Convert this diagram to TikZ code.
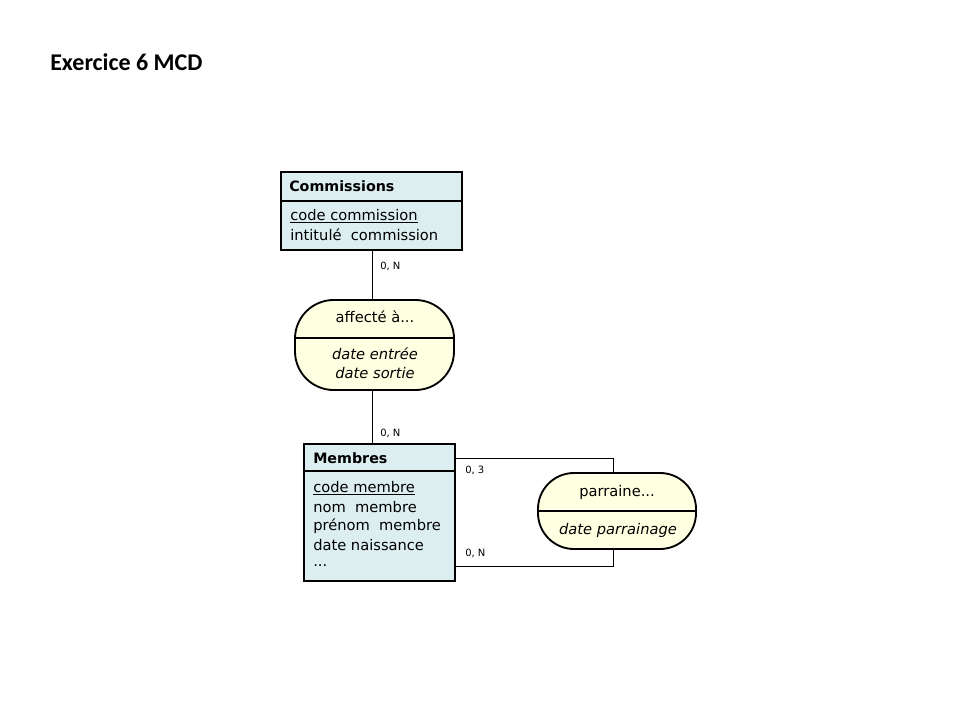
\documentclass[tikz,border=0pt]{standalone}
\usepackage{fontspec}
\setmainfont{DejaVu Sans}
\newfontfamily\titlefont{Carlito}
\definecolor{entfill}{RGB}{221,238,240}
\definecolor{assfill}{RGB}{255,255,226}
\tikzset{
  entitybox/.style={draw=black, line width=1.4pt, fill=entfill, anchor=north west, inner sep=0pt},
  assocbox/.style={draw=black, line width=1.4pt, fill=assfill, rounded corners=29pt, inner sep=0pt},
  divider/.style={line width=1.4pt},
  link/.style={draw=black, line width=0.6pt},
  txt/.style={font=\fontsize{11}{13}\selectfont, inner sep=0pt, anchor=west},
  hdr/.style={font=\bfseries\fontsize{10.7}{13}\selectfont, inner sep=0pt, anchor=west},
  itxt/.style={font=\itshape\fontsize{11}{13}\selectfont, inner sep=0pt},
  card/.style={font=\fontsize{7.5}{9}\selectfont, inner sep=0pt, anchor=west},
}
\begin{document}
\begin{tikzpicture}[x=0.75pt,y=-0.75pt]
\useasboundingbox (0,0) rectangle (960,720);
% title
\node[font=\titlefont\bfseries\fontsize{18}{21}\selectfont, anchor=west, inner sep=0pt] (title) at (50,62) {Exercice 6 MCD};

% Commissions entity
\node[entitybox, minimum width=135.75pt, minimum height=58.5pt] (comm) at (280,171) {};
\draw[divider] (280,201) -- (463,201);
\node[hdr] (commh) at (289,186) {Commissions};
\node[txt] (comm1) at (290,216) {\underline{code commission}};
\node[txt] (comm2) at (290,235) {intitulé\ \ commission};

% affecte association
\node[assocbox, minimum width=119.25pt, minimum height=67.5pt] (aff) at (374.5,345) {};
\draw[divider] (295,338) -- (454,338);
\node[font=\fontsize{11}{13}\selectfont, inner sep=0pt] (aff1) at (375,317) {affecté à...};
\node[itxt] (aff2) at (375,354) {date entrée};
\node[itxt] (aff3) at (375,373) {date sortie};

% Membres entity
\node[entitybox, minimum width=113.25pt, minimum height=102.75pt] (memb) at (303,443) {};
\draw[divider] (303,471) -- (454,471);
\node[hdr] (membh) at (313,458) {Membres};
\node[txt] (memb1) at (313,488) {\underline{code membre}};
\node[txt] (memb2) at (313,507) {nom\ \ membre};
\node[txt] (memb3) at (313,526) {prénom\ \ membre};
\node[txt] (memb4) at (313,545) {date naissance};
\node[txt] (memb5) at (313,566) {...};

% parraine association
\node[assocbox, rounded corners=27pt, minimum width=118.5pt, minimum height=57pt] (parr) at (617,511) {};
\draw[divider] (538,511) -- (696,511);
\node[font=\fontsize{11}{13}\selectfont, inner sep=0pt] (parr1) at (617,492) {parraine...};
\node[itxt] (parr2) at (618,530) {date parrainage};

% connectors
\draw[link] ([xshift=-1.9pt]aff.north) -- ([xshift=-1.9pt]aff.north |- comm.south);
\draw[link] ([xshift=-1.9pt]aff.south) -- ([xshift=-1.9pt]aff.south |- memb.north);
\draw[link] ([yshift=-11.25pt]memb.north east) -| ([xshift=-3pt]parr.north);
\draw[link] ([yshift=11.25pt]memb.south east) -| ([xshift=-3pt]parr.south);

% cardinalities
\node[card] (c1) at (380,266) {0, N};
\node[card] (c2) at (380,433) {0, N};
\node[card] (c3) at (465,470) {0, 3};
\node[card] (c4) at (465,553) {0, N};
\end{tikzpicture}
\end{document}
